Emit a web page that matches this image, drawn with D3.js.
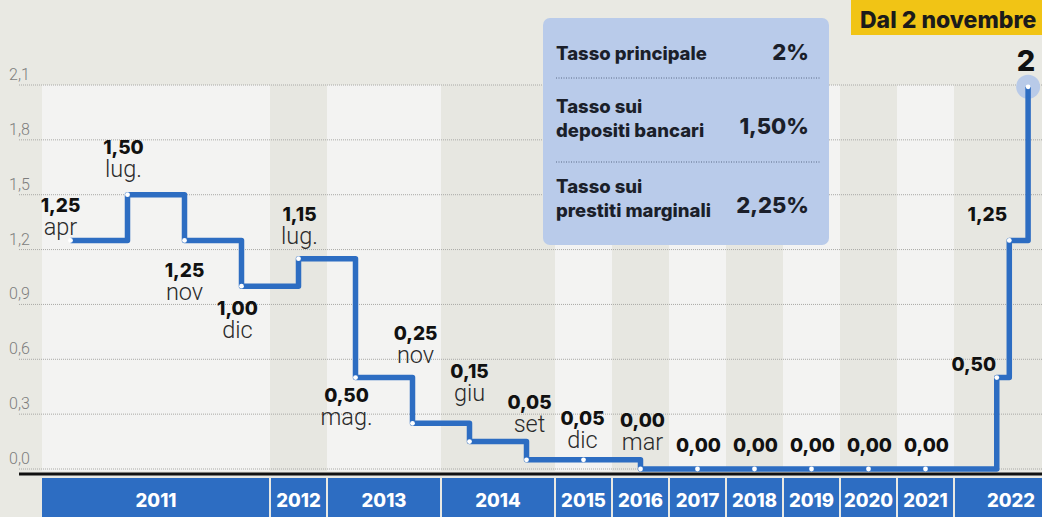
<!DOCTYPE html>
<html>
<head>
<meta charset="utf-8">
<script src="https://cdn.jsdelivr.net/npm/d3@7"></script>
<style>
  html, body { margin: 0; padding: 0; background: #e9e9e3; overflow: hidden; }
  svg { display: block; }
</style>
</head>
<body>
<svg width="1042" height="517"></svg>
<script>
// anni e quante "caselle" occupa ciascuno sull'asse x
const years = ['2011', '2012', '2013', '2014', '2015', '2016', '2017', '2018', '2019', '2020', '2021', '2022'];
const yearSlots = [4, 1, 2, 2, 1, 1, 1, 1, 1, 1, 1, 2];

// variazioni del tasso (posizione in caselle, valore disegnato)
const slots = [0.5, 1.5, 2.5, 3.5, 4.5, 5.5, 6.5, 7.5, 8.5, 9.5, 10.5, 11.5, 12.5, 13.5, 14.5, 15.5, 16.75, 16.97, 17.3];
const rates = [1.25, 1.50, 1.25, 1.00, 1.15, 0.50, 0.25, 0.15, 0.05, 0.05, 0.00, 0.00, 0.00, 0.00, 0.00, 0.00, 0.50, 1.25, 2.09];
const rateLabels = ['1,25', '1,50', '1,25', '1,00', '1,15', '0,50', '0,25', '0,15', '0,05', '0,05', '0,00', '0,00', '0,00', '0,00', '0,00', '0,00', '0,50', '1,25', '2'];
const months = ['apr', 'lug.', 'nov', 'dic', 'lug.', 'mag.', 'nov', 'giu', 'set', 'dic', 'mar', '', '', '', '', '', '', '', ''];

const yTicks = [0, 0.3, 0.6, 0.9, 1.2, 1.5, 1.8, 2.1];

// riquadro con i tassi attuali
const boxRows = [
    { label: ['Tasso principale'], value: '2%' },
    { label: ['Tasso sui', 'depositi bancari'], value: '1,50%' },
    { label: ['Tasso sui', 'prestiti marginali'], value: '2,25%' }
];

// spostamento delle etichette rispetto al punto [dx, dy]
const labelPos = [
    [-10, -28], [-4, -41], [0, 37], [-4, 29], [1, -38], [-9, 24], [3, -83], [0, -64], [3, -51],
    [-1, -35], [2, -42], [1, -17], [1, -17], [1, -17], [1, -17], [1, -17], [-23, -7], [-22, -19], [-2, -16]
];

const blue = '#2d6dc2';
const svg = d3.select('svg');

const x = d3.scaleLinear().domain([0, d3.sum(yearSlots)]).range([42, 1068]);
const y = d3.scaleLinear().domain([0, 2.1]).range([469, 85]);

// fasce degli anni
let acc = 0;
const yearBands = years.map((yr, i) => {
    const b = { year: yr, start: acc, end: acc + yearSlots[i], i: i };
    acc += yearSlots[i];
    return b;
});

svg.append('g')
    .selectAll('rect')
    .data(yearBands)
    .enter().append('rect')
    .attr('x', d => x(d.start))
    .attr('y', y(2.1))
    .attr('width', d => x(d.end) - x(d.start))
    .attr('height', y(0) - y(2.1) + 2)
    .attr('fill', d => d.i % 2 === 0 ? '#f3f3f2' : '#e7e7e1');

// griglia
const grid = svg.append('g');
grid.selectAll('line')
    .data(yTicks)
    .enter().append('line')
    .attr('x1', 19)
    .attr('x2', 1042)
    .attr('y1', d => y(d))
    .attr('y2', d => y(d))
    .attr('stroke', '#a9a9a6')
    .attr('stroke-width', 1)
    .attr('stroke-dasharray', '1,1');

grid.selectAll('text')
    .data(yTicks)
    .enter().append('text')
    .attr('x', 9)
    .attr('y', d => y(d) - 5)
    .attr('font-family', 'Roboto, sans-serif')
    .attr('font-weight', 300)
    .attr('font-size', 16)
    .attr('fill', '#7d7d7d')
    .text(d => d3.format('.1f')(d).replace('.', ','));

// asse
svg.append('line')
    .attr('x1', 19).attr('x2', 1042)
    .attr('y1', 474).attr('y2', 474)
    .attr('stroke', '#111')
    .attr('stroke-width', 3);

// barra degli anni
const yearBar = svg.append('g');
yearBar.selectAll('rect')
    .data(yearBands)
    .enter().append('rect')
    .attr('x', d => x(d.start) + (d.i === 0 ? 0 : 1))
    .attr('y', 478)
    .attr('width', d => x(d.end) - x(d.start) - (d.i === 0 ? 1 : 2))
    .attr('height', 40)
    .attr('fill', blue);

yearBar.selectAll('text')
    .data(yearBands)
    .enter().append('text')
    .attr('x', d => x((d.start + d.end) / 2))
    .attr('y', 507)
    .attr('text-anchor', 'middle')
    .attr('font-family', 'Inter, sans-serif')
    .attr('font-weight', 800)
    .attr('font-size', 18.5)
    .attr('fill', '#fff')
    .text(d => d.year);

const points = slots.map((s, i) => ({ s: s, v: rates[i], label: rateLabels[i], month: months[i], off: labelPos[i] }));
const last = points[points.length - 1];

// cerchio finale
svg.append('circle')
    .attr('cx', x(last.s))
    .attr('cy', y(last.v))
    .attr('r', 12)
    .attr('fill', '#b8cae8');

// linea a gradini
const line = d3.line()
    .x(d => x(d.s))
    .y(d => y(d.v))
    .curve(d3.curveStepAfter);

svg.append('path')
    .datum(points)
    .attr('d', line)
    .attr('fill', 'none')
    .attr('stroke', blue)
    .attr('stroke-width', 5.5)
    .attr('stroke-linejoin', 'round');

svg.append('g')
    .selectAll('circle')
    .data(points)
    .enter().append('circle')
    .attr('cx', d => x(d.s))
    .attr('cy', d => y(d.v))
    .attr('r', 2.4)
    .attr('fill', '#fff');

// etichette
const labels = svg.append('g')
    .selectAll('g')
    .data(points)
    .enter().append('g')
    .attr('transform', d => `translate(${x(d.s) + d.off[0]},${y(d.v) + d.off[1]})`);

labels.append('text')
    .attr('text-anchor', 'middle')
    .attr('font-family', 'Inter, sans-serif')
    .attr('font-weight', 800)
    .attr('font-size', (d, i) => i === points.length - 1 ? 29 : 19)
    .attr('fill', '#111')
    .text(d => d.label);

labels.append('text')
    .attr('y', 23)
    .attr('text-anchor', 'middle')
    .attr('font-family', 'Roboto, sans-serif')
    .attr('font-weight', 300)
    .attr('font-size', 23.5)
    .attr('fill', '#2a2a2a')
    .text(d => d.month);

// riquadro blu
const box = svg.append('g');
box.append('rect')
    .attr('x', 543).attr('y', 18)
    .attr('width', 286).attr('height', 227)
    .attr('rx', 7)
    .attr('fill', '#b9cbea');

const rowBase = [60, 113, 193];
const valBase = [60, 134, 213];
boxRows.forEach((r, i) => {
    r.label.forEach((t, j) => {
        box.append('text')
            .attr('x', 556)
            .attr('y', rowBase[i] + j * 24)
            .attr('font-family', 'Inter, sans-serif')
            .attr('font-weight', 800)
            .attr('font-size', 18.5)
            .attr('fill', '#1b1f2a')
            .text(t);
    });
    box.append('text')
        .attr('x', 809)
        .attr('y', valBase[i])
        .attr('text-anchor', 'end')
        .attr('font-family', 'Inter, sans-serif')
        .attr('font-weight', 800)
        .attr('font-size', 22)
        .attr('fill', '#1b1f2a')
        .text(r.value);
});

[78, 162].forEach(yy => {
    box.append('line')
        .attr('x1', 556).attr('x2', 821)
        .attr('y1', yy).attr('y2', yy)
        .attr('stroke', '#5b6a86')
        .attr('stroke-width', 1)
        .attr('stroke-dasharray', '1,1.5');
});

// etichetta gialla
svg.append('rect')
    .attr('x', 851).attr('y', 0)
    .attr('width', 200).attr('height', 35)
    .attr('fill', '#f1c415');

svg.append('text')
    .attr('x', 860)
    .attr('y', 28)
    .attr('font-family', 'Inter, sans-serif')
    .attr('font-weight', 800)
    .attr('font-size', 23)
    .attr('fill', '#1b1b1b')
    .text('Dal 2 novembre');
</script>
</body>
</html>
